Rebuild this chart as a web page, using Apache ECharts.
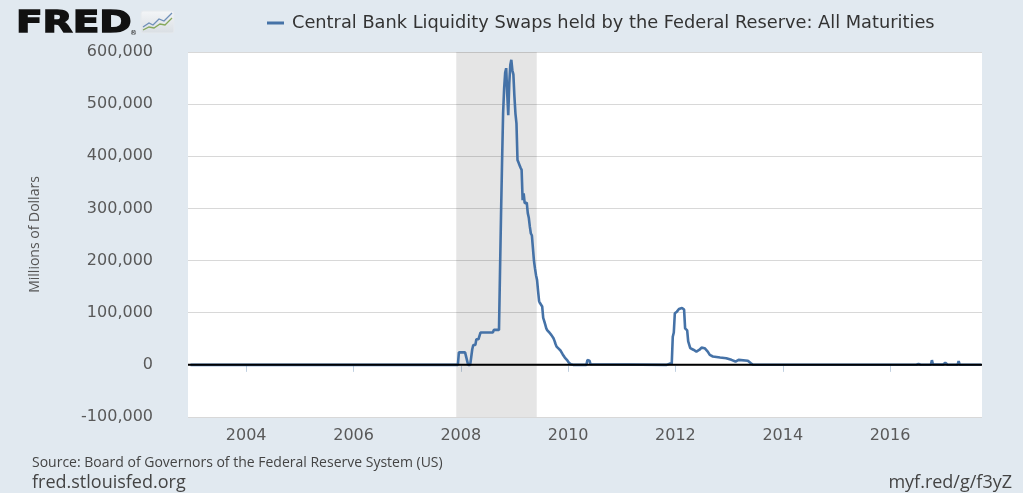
<!DOCTYPE html>
<html><head><meta charset="utf-8">
<script src="https://cdn.jsdelivr.net/npm/echarts@6/dist/echarts.min.js"></script>
<style>html,body{margin:0;padding:0;background:#e1e9f0;}#c{width:1023px;height:493px;}</style>
</head><body><div id="c"></div>
<script>
const seriesName = 'Central Bank Liquidity Swaps held by the Federal Reserve: All Maturities';
const yAxisName = 'Millions of Dollars';
const sourceText = 'Source: Board of Governors of the Federal Reserve System (US)';
const siteText = 'fred.stlouisfed.org';
const shortLink = 'myf.red/g/f3yZ';
const yMin = -100000, yMax = 600000, yStep = 100000;
const xTickYears = [2004, 2006, 2008, 2010, 2012, 2014, 2016];
const axisRange = ['2002-12-01', '2017-09-18'];
const recession = ['2007-12-01', '2009-06-01'];

const dates = [
'2002-12-18','2007-12-12','2007-12-19','2008-01-30','2008-02-20','2008-03-05','2008-03-12','2008-03-19','2008-03-26','2008-04-09',
'2008-04-16','2008-04-30','2008-05-14','2008-08-06','2008-08-13','2008-09-17','2008-09-24','2008-10-01','2008-10-08','2008-10-15',
'2008-10-22','2008-10-29','2008-11-05','2008-11-12','2008-11-19','2008-11-26','2008-12-03','2008-12-10','2008-12-17','2008-12-24',
'2008-12-31','2009-01-07','2009-01-14','2009-01-21','2009-01-28','2009-02-04','2009-02-11','2009-02-18','2009-02-25','2009-03-04',
'2009-03-11','2009-03-18','2009-03-25','2009-04-01','2009-04-08','2009-04-15','2009-04-22','2009-04-29','2009-05-06','2009-05-13',
'2009-05-20','2009-05-27','2009-06-03','2009-06-10','2009-06-17','2009-06-24','2009-07-01','2009-07-08','2009-07-15','2009-07-22',
'2009-07-29','2009-08-05','2009-08-12','2009-08-19','2009-08-26','2009-09-02','2009-09-09','2009-09-16','2009-09-23','2009-09-30',
'2009-10-07','2009-10-14','2009-10-21','2009-10-28','2009-11-04','2009-11-11','2009-11-18','2009-11-25','2009-12-02','2009-12-09',
'2009-12-16','2009-12-23','2009-12-30','2010-01-06','2010-01-13','2010-01-20','2010-02-03','2010-05-05','2010-05-12','2010-05-19',
'2010-05-26','2010-06-02','2010-06-09','2011-11-02','2011-11-23','2011-11-30','2011-12-07','2011-12-14','2011-12-21','2011-12-28',
'2012-01-04','2012-01-11','2012-01-25','2012-02-15','2012-02-29','2012-03-07','2012-03-21','2012-03-28','2012-04-11','2012-05-02',
'2012-05-23','2012-06-13','2012-06-27','2012-07-18','2012-08-08','2012-08-22','2012-09-12','2012-10-31','2012-12-12','2013-01-16',
'2013-02-13','2013-03-06','2013-05-08','2013-05-29','2013-06-12','2016-06-29','2016-07-13','2016-07-27','2016-10-05','2016-10-12',
'2016-10-19','2016-12-28','2017-01-11','2017-01-25','2017-04-05','2017-04-12','2017-04-19','2017-07-05','2017-07-12','2017-07-19',
'2017-09-13'
];
const values = [
0,0,24000,24000,0,0,0,30000,38000,38000,
49000,49000,62000,62000,67000,67000,180000,290000,390000,483000,
530000,560000,569000,520000,479000,540000,575000,585000,565000,557000,
515000,482000,463000,393000,388000,383000,378000,374000,316000,329000,
310000,312000,311000,291000,282000,265000,252000,248000,246000,200000,
185000,172000,163000,142000,122000,118000,115000,112000,90000,84000,
77000,70000,66000,63000,62000,60000,57000,54000,51000,46000,
40000,35000,33000,31000,29000,27000,24000,20000,18000,14000,
12000,9600,7000,4000,2000,1000,0,0,9200,9200,
8000,1200,100,0,2400,2400,2400,54000,62000,99000,
96000,102000,107000,109000,106000,70000,66000,45000,32000,29000,
25500,29000,33000,32000,25500,19000,16000,14000,12800,9600,
6300,9600,8000,3000,200,200,2000,200,300,9000,
1000,500,4000,500,300,7000,500,300,3000,300,
100
];

function ts(s) { const p = s.split('-').map(Number); return Date.UTC(p[0], p[1] - 1, p[2]); }
const lineData = dates.map((d, i) => [ts(d), values[i]]);
const zeroData = [[ts(axisRange[0]), 0], [ts(axisRange[1]), 0]];
const xTickValues = xTickYears.map(y => Date.UTC(y, 0, 1));

const chart = echarts.init(document.getElementById('c'), null, {renderer: 'canvas'});
chart.setOption({
  backgroundColor: '#e1e9f0',
  animation: false,
  legend: {
    data: [seriesName],
    left: 262, top: 9,
    icon: 'rect', itemWidth: 17, itemHeight: 3,
    textStyle: {fontFamily: 'DejaVu Sans', fontSize: 17.8, color: '#333333', padding: [0, 0, 0, 3]}
  },
  grid: {left: 188, right: 41, top: 52, bottom: 76, show: true, backgroundColor: '#ffffff', borderWidth: 0},
  xAxis: {
    type: 'value',
    min: ts(axisRange[0]), max: ts(axisRange[1]),
    axisLine: {show: false},
    splitLine: {show: false},
    axisTick: {show: true, length: 7, lineStyle: {color: '#c0d0e0'}, customValues: xTickValues},
    axisLabel: {
      customValues: xTickValues,
      formatter: v => String(new Date(v).getUTCFullYear()),
      fontFamily: 'DejaVu Sans', fontSize: 16, color: '#595959', margin: 11
    }
  },
  yAxis: {
    type: 'value', min: yMin, max: yMax, interval: yStep,
    name: yAxisName, nameLocation: 'middle', nameRotate: 90, nameGap: 146,
    nameTextStyle: {fontFamily: 'Open Sans', fontSize: 14, color: '#555555'},
    axisLine: {show: false}, axisTick: {show: false},
    splitLine: {lineStyle: {color: '#d8d8d8', width: 1}},
    axisLabel: {
      formatter: v => v.toLocaleString('en-US'),
      fontFamily: 'DejaVu Sans', fontSize: 16, color: '#595959', margin: 35
    }
  },
  series: [
    {
      name: 'recession', type: 'line', data: [], z: 1, silent: true,
      markArea: {silent: true, itemStyle: {color: 'rgba(0,0,0,0.1)'},
        data: [[{xAxis: ts(recession[0])}, {xAxis: ts(recession[1])}]]}
    },
    {
      name: seriesName, type: 'line', data: lineData, z: 2,
      showSymbol: false, symbol: 'none',
      lineStyle: {color: '#4572a7', width: 2.6},
      itemStyle: {color: '#4572a7'}
    },
    {
      name: 'zero', type: 'line', data: zeroData, z: 3, silent: true,
      symbol: 'none', lineStyle: {color: '#000000', width: 2}
    }
  ],
  graphic: [
    {type: 'text', left: 15, top: 8, scaleX: 1.26, style: {text: 'FRED', font: 'bold 31px "DejaVu Sans"', fill: '#111111', stroke: '#111111', lineWidth: 1.4}},
    {type: 'text', left: 130, top: 30, style: {text: '®', font: '7px "DejaVu Sans"', fill: '#111111'}},
    {type: 'rect', shape: {x: 141, y: 11, width: 33, height: 22, r: 2},
      style: {fill: new echarts.graphic.LinearGradient(0, 0, 0, 1, [{offset: 0, color: '#f4f6f8'}, {offset: 1, color: '#d9dee3'}]), stroke: '#e6eaee'}},
    {type: 'polyline', shape: {points: [[143,27],[149,23],[153,25],[159,19],[164,21],[172,13]]}, style: {stroke: '#6f8fb8', lineWidth: 1.3, fill: null}},
    {type: 'polyline', shape: {points: [[143,30],[149,27],[154,28],[160,24],[165,25],[172,18]]}, style: {stroke: '#86a85a', lineWidth: 1.3, fill: null}},
    {type: 'text', left: 32, top: 456, style: {text: sourceText, font: '14px "Open Sans"', fill: '#444444'}},
    {type: 'text', left: 32, top: 474, style: {text: siteText, font: '18px "Open Sans"', fill: '#444444'}},
    {type: 'text', right: 11, top: 474, style: {text: shortLink, font: '18px "Open Sans"', fill: '#444444'}}
  ]
});
</script></body></html>
